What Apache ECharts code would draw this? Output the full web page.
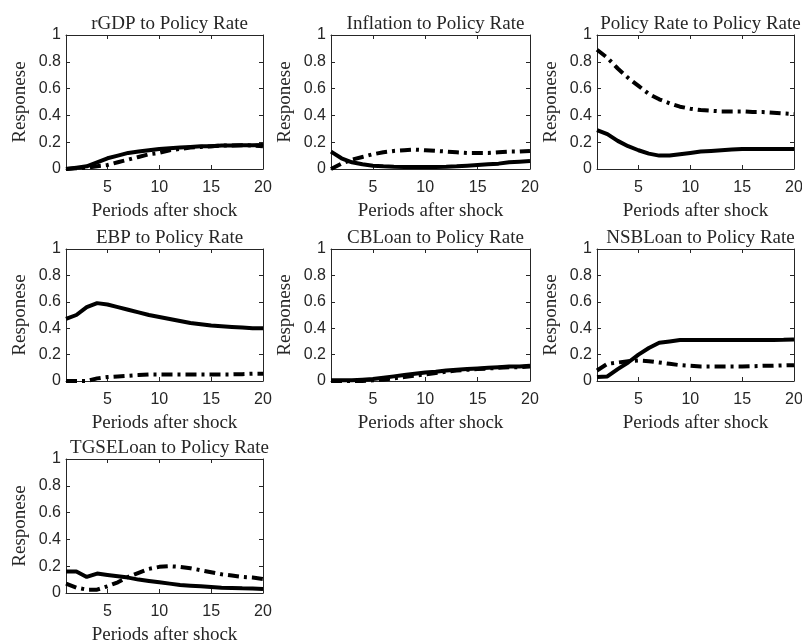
<!DOCTYPE html>
<html><head><meta charset="utf-8">
<script src="https://cdn.jsdelivr.net/npm/echarts@6/dist/echarts.min.js"></script>
<style>html,body{margin:0;padding:0;background:#fff}#c{width:802px;height:641px}</style>
</head><body><div id="c"></div>
<script>
const periods = [1,2,3,4,5,6,7,8,9,10,11,12,13,14,15,16,17,18,19,20];
const xTicks = [5,10,15,20];
const yTicks = [0,0.2,0.4,0.6,0.8,1];
const titles = ["rGDP to Policy Rate","Inflation to Policy Rate","Policy Rate to Policy Rate","EBP to Policy Rate","CBLoan to Policy Rate","NSBLoan to Policy Rate","TGSELoan to Policy Rate"];

const rgdpSolid  = [0.0,0.01,0.02,0.05,0.08,0.10,0.12,0.13,0.14,0.15,0.155,0.16,0.165,0.17,0.17,0.175,0.175,0.178,0.178,0.18];
const rgdpDash   = [0.0,0.005,0.01,0.02,0.03,0.05,0.07,0.09,0.11,0.12,0.14,0.15,0.16,0.165,0.17,0.175,0.175,0.178,0.175,0.17];
const inflSolid  = [0.13,0.08,0.05,0.035,0.025,0.02,0.017,0.015,0.015,0.015,0.015,0.017,0.02,0.025,0.03,0.035,0.04,0.05,0.055,0.06];
const inflDash   = [0.0,0.04,0.07,0.09,0.11,0.125,0.135,0.14,0.145,0.14,0.135,0.13,0.125,0.12,0.12,0.12,0.125,0.13,0.13,0.135];
const polSolid   = [0.29,0.26,0.21,0.17,0.14,0.115,0.10,0.10,0.11,0.12,0.13,0.135,0.14,0.145,0.15,0.15,0.15,0.15,0.15,0.15];
const polDash    = [0.89,0.83,0.75,0.68,0.62,0.56,0.52,0.49,0.465,0.45,0.44,0.435,0.43,0.43,0.43,0.425,0.425,0.42,0.415,0.41];
const ebpSolid   = [0.47,0.50,0.56,0.59,0.58,0.56,0.54,0.52,0.50,0.485,0.47,0.455,0.44,0.43,0.42,0.415,0.41,0.405,0.40,0.40];
const ebpDash    = [0.0,0.0,0.0,0.02,0.03,0.035,0.04,0.045,0.05,0.05,0.05,0.05,0.05,0.05,0.05,0.05,0.05,0.052,0.055,0.055];
const cbSolid    = [0.005,0.005,0.005,0.01,0.015,0.025,0.035,0.045,0.055,0.065,0.07,0.08,0.085,0.09,0.095,0.10,0.105,0.11,0.11,0.115];
const cbDash     = [0.0,0.0,0.0,0.0,0.005,0.01,0.02,0.03,0.04,0.05,0.06,0.07,0.08,0.085,0.09,0.095,0.10,0.105,0.105,0.11];
const nsbSolid   = [0.03,0.035,0.09,0.14,0.20,0.25,0.29,0.30,0.31,0.31,0.31,0.31,0.31,0.31,0.31,0.31,0.31,0.31,0.312,0.315];
const nsbDash    = [0.08,0.13,0.14,0.15,0.155,0.15,0.14,0.13,0.12,0.115,0.11,0.11,0.11,0.11,0.11,0.112,0.115,0.115,0.118,0.12];
const tgseSolid  = [0.16,0.16,0.12,0.145,0.135,0.125,0.115,0.10,0.09,0.08,0.07,0.06,0.055,0.05,0.045,0.04,0.038,0.035,0.033,0.03];
const tgseDash   = [0.07,0.04,0.025,0.025,0.05,0.08,0.12,0.15,0.18,0.195,0.20,0.195,0.185,0.17,0.155,0.14,0.13,0.12,0.115,0.105];

const panels = [
  [rgdpSolid, rgdpDash],[inflSolid, inflDash],[polSolid, polDash],
  [ebpSolid, ebpDash],[cbSolid, cbDash],[nsbSolid, nsbDash],[tgseSolid, tgseDash]
];

const colLeft = [66, 331, 597];
const colW = [197, 199, 197];
const rowTop = [35, 249, 459];
const rowH = [134, 132, 134];
const serif = "'Liberation Serif','DejaVu Serif',serif";
const sans = "'Liberation Sans','DejaVu Sans',sans-serif";
const ink = '#262626';

const grid=[], xAxis=[], yAxis=[], series=[], title=[];
panels.forEach((p,i)=>{
  const r = Math.floor(i/3), c = i%3;
  grid.push({left:colLeft[c], top:rowTop[r], width:colW[c], height:rowH[r], containLabel:false, outerBoundsMode:'none'});
  const axLine = {show:true, onZero:false, lineStyle:{color:ink, width:1}};
  const tick = {show:true, inside:true, length:4, lineStyle:{color:ink}};
  xAxis.push({gridIndex:i, type:'value', min:1, max:20, position:'bottom',
    axisLine:axLine, axisTick:Object.assign({customValues:xTicks},tick),
    axisLabel:{customValues:xTicks, color:ink, fontFamily:sans, fontSize:16, margin:11},
    splitLine:{show:false},
    name:'Periods after shock', nameLocation:'middle', nameGap:33,
    nameTextStyle:{fontFamily:serif, fontSize:19, color:ink}});
  xAxis.push({gridIndex:i, type:'value', min:1, max:20, position:'top',
    axisLine:axLine, axisTick:Object.assign({customValues:xTicks},tick),
    axisLabel:{show:false}, splitLine:{show:false}});
  yAxis.push({gridIndex:i, type:'value', min:0, max:1, interval:0.2, position:'left',
    axisLine:axLine, axisTick:tick,
    axisLabel:{color:ink, fontFamily:sans, fontSize:16, margin:5},
    splitLine:{show:false},
    name:'Responese', nameLocation:'middle', nameGap:36, nameRotate:90,
    nameTextStyle:{fontFamily:serif, fontSize:19, color:ink}});
  yAxis.push({gridIndex:i, type:'value', min:0, max:1, interval:0.2, position:'right',
    axisLine:axLine, axisTick:tick, axisLabel:{show:false}, splitLine:{show:false}});
  title.push({text:titles[i], left:colLeft[c]+colW[c]/2, top:rowTop[r]-25, textAlign:'center',
    textStyle:{fontFamily:serif, fontSize:19, fontWeight:'normal', color:ink}});
  series.push({type:'line', xAxisIndex:2*i, yAxisIndex:2*i, showSymbol:false, symbol:'none',
    data:periods.map((x,k)=>[x,p[0][k]]), lineStyle:{color:'#000', width:4, type:'solid'}, z:3});
  series.push({type:'line', xAxisIndex:2*i, yAxisIndex:2*i, showSymbol:false, symbol:'none',
    data:periods.map((x,k)=>[x,p[1][k]]), lineStyle:{color:'#000', width:4, type:[11,5,3,5]}, z:3});
});

const chart = echarts.init(document.getElementById('c'), null, {renderer:'canvas'});
chart.setOption({animation:false, backgroundColor:'#fff', title, grid, xAxis, yAxis, series});
</script></body></html>
